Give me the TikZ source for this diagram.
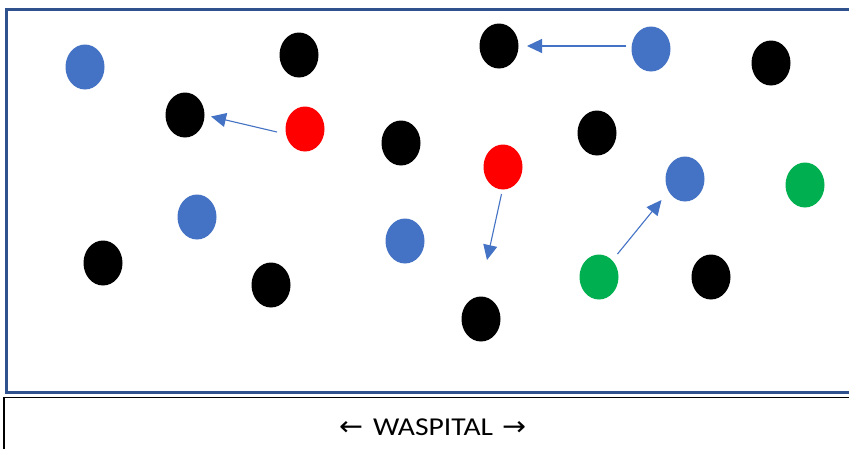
\documentclass[tikz,border=0pt]{standalone}
\usepackage{fontspec}
\usepackage{graphicx}
\setmainfont{Carlito}
\newfontfamily\arrowfont{DejaVu Sans}
\usetikzlibrary{shapes.geometric,arrows.meta}
\definecolor{ptblue}{HTML}{4472C4}
\definecolor{ptred}{HTML}{FF0000}
\definecolor{ptgreen}{HTML}{00B050}
\definecolor{frameblue}{HTML}{2F528F}
\tikzset{
  dot/.style={ellipse, minimum width=39pt, minimum height=45pt, inner sep=0pt, draw=none},
  kdot/.style={dot, fill=black},
  bdot/.style={dot, fill=ptblue},
  rdot/.style={dot, fill=ptred},
  gdot/.style={dot, fill=ptgreen},
  move/.style={draw=ptblue, line width=1.1pt, -{Triangle[length=15pt,width=14pt]}},
}
\begin{document}
\begin{tikzpicture}[x=1pt,y=-1pt]
  \useasboundingbox (0,0) rectangle (849,448);
  \fill[white] (0,0) rectangle (849,448);
  \begin{scope}
    \clip (0,0) rectangle (849,448);
    % ward area and the label strip below it
    \draw[frameblue, line width=2.2pt] (6.5,9.5) rectangle (870,392.5);
    \draw[black, line width=1.4pt] (4,397.5) rectangle (870,470);
  \end{scope}
  \node[anchor=base west, inner sep=0pt, outer sep=0pt] (label) at (339,435.7)
    {\resizebox{24pt}{14pt}{\arrowfont ←}\hspace{10pt}%
     \resizebox{120pt}{16.7pt}{WASPITAL}\hspace{9pt}%
     \resizebox{24pt}{14pt}{\arrowfont →}};

  % people on the ward
  \node[bdot] (b1) at (85,67) {};
  \node[kdot] (k1) at (299,55) {};
  \node[kdot] (k2) at (499,46) {};
  \node[bdot] (b2) at (651,49) {};
  \node[kdot] (k3) at (771,63) {};
  \node[kdot] (k4) at (185,115) {};
  \node[rdot] (r1) at (305,129) {};
  \node[kdot] (k5) at (401,143) {};
  \node[kdot] (k6) at (597,133) {};
  \node[rdot] (r2) at (503,167) {};
  \node[bdot] (b3) at (685,179) {};
  \node[gdot] (g1) at (805,185) {};
  \node[bdot] (b4) at (197,217) {};
  \node[bdot] (b5) at (405,241) {};
  \node[kdot] (k7) at (103,263) {};
  \node[kdot] (k8) at (271,285) {};
  \node[gdot] (g2) at (599,277) {};
  \node[kdot] (k9) at (711,277) {};
  \node[kdot] (k10) at (481,319) {};

  % movement vectors
  \coordinate (m1s) at (626,46);   \coordinate (m1e) at (527,46);
  \coordinate (m2s) at (277,132);  \coordinate (m2e) at (211,116.5);
  \coordinate (m3s) at (501.5,194); \coordinate (m3e) at (487,260);
  \coordinate (m4s) at (617.5,254); \coordinate (m4e) at (661.5,200);
  \draw[move] (m1s) -- (m1e);
  \draw[move] (m2s) -- (m2e);
  \draw[move] (m3s) -- (m3e);
  \draw[move] (m4s) -- (m4e);
\end{tikzpicture}
\end{document}
